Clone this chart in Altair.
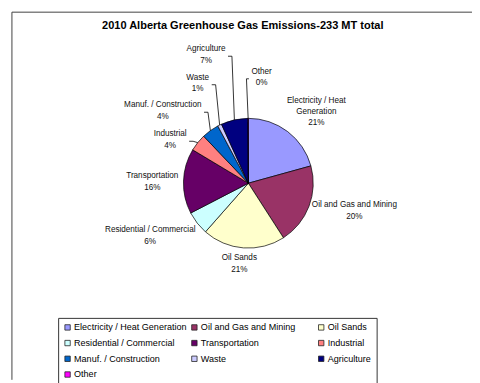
import math
import pandas as pd
import altair as alt

# ---------------- data ----------------
TITLE = "2010 Alberta Greenhouse Gas Emissions-233 MT total"
categories = [
    "Electricity / Heat Generation",
    "Oil and Gas and Mining",
    "Oil Sands",
    "Residential / Commercial",
    "Transportation",
    "Industrial",
    "Manuf. / Construction",
    "Waste",
    "Agriculture",
    "Other",
]
shares = [20.7, 20.2, 20.6, 5.9, 16.2, 4.3, 4.3, 1.0, 6.7, 0.1]  # percent of total
colors = ["#9999FF", "#993366", "#FFFFCC", "#CCFFFF", "#660066",
          "#FF8080", "#0066CC", "#CCCCFF", "#000080", "#FF00FF"]

# ---------------- layout / style ----------------
W_CHART, H_CHART = 472, 375
CX, CY, R = 244.5, 175.0, 66      # pie centre and radius (px)
GAP = 5                            # label distance outside the pie
FONT = "Liberation Sans"
LFS, LH = 8.3, 11.5                # pie label font size / line height
wrap = {"Electricity / Heat Generation": ["Electricity / Heat", "Generation"]}
nudge = {
    "Electricity / Heat Generation": (8, -2),
    "Oil and Gas and Mining": (1, -1),
    "Oil Sands": (-2.5, 0),
    "Residential / Commercial": (-7.5, 3),
    "Transportation": (0, 1.5),
    "Industrial": (-11, 7.6),
    "Manuf. / Construction": (-22.4, -6.6),
    "Waste": (-14.9, -27.5),
    "Agriculture": (-23.5, -49.9),
    "Other": (13.7, -25),
}
leader_cats = {"Industrial": 4, "Manuf. / Construction": 4, "Waste": 4,
               "Agriculture": 4, "Other": 2.5}

# approximate Arial/Helvetica glyph widths (per 1000 em) to size label boxes
GW = {" ": 278, "/": 278, ".": 278, "%": 889, "-": 333}
GW.update({c: 556 for c in "0123456789abdeghnopqu"})
GW.update({"c": 500, "f": 278, "i": 222, "j": 222, "k": 500, "l": 222, "m": 833,
           "r": 333, "s": 500, "t": 278, "v": 500, "w": 722, "x": 500, "y": 500,
           "z": 500, "A": 667, "C": 722, "E": 667, "G": 778, "H": 722, "I": 278,
           "M": 833, "O": 778, "R": 722, "S": 667, "T": 611, "W": 944})


def text_w(s, size):
    return sum(GW.get(ch, 600) for ch in s) * size / 1000.0


total = sum(shares)
pie_df = pd.DataFrame({"category": categories, "share": shares,
                       "idx": list(range(len(categories)))})

label_rows, seg_rows = [], []
cum = 0.0
for cat, v in zip(categories, shares):
    mid = (cum + v / 2) / total * 2 * math.pi
    cum += v
    sa, ca = math.sin(mid), math.cos(mid)
    ax, ay = CX + (R + GAP) * sa, CY - (R + GAP) * ca
    lines = wrap.get(cat, [cat]) + [f"{round(v / total * 100)}%"]
    w = max(text_w(l, LFS) for l in lines)
    h = len(lines) * LH
    dx, dy = nudge.get(cat, (0, 0))
    lx = ax + w / 2 * sa + dx
    ly = ay - h / 2 * ca + dy            # centre of the label block
    first = ly - (len(lines) - 1) * LH / 2  # centre of its first line
    label_rows.append({"text": "\n".join(lines), "lx": lx, "ly": first})
    if cat in leader_cats:
        ex, ey = CX + R * sa, CY - R * ca
        side = 1 if lx < ex else -1
        sx, sy = lx + side * (w / 2 + 2.5), ly + 1.3
        bx = sx + side * leader_cats[cat]
        seg_rows.append({"x": sx, "y": sy, "x2": bx, "y2": sy})
        seg_rows.append({"x": bx, "y": sy, "x2": ex, "y2": ey})

labels_df = pd.DataFrame(label_rows)
segs_df = pd.DataFrame(seg_rows)
title_df = pd.DataFrame({"t": [TITLE]})

# ---------------- marks ----------------
frame = alt.Chart(title_df).mark_rule(color="#404040", strokeWidth=1)
frame_top = frame.encode(x=alt.value(4), x2=alt.value(W_CHART), y=alt.value(1))
frame_left = frame.encode(x=alt.value(4), y=alt.value(1), y2=alt.value(H_CHART))

title = alt.Chart(title_df).mark_text(
    font=FONT, fontSize=11.2, fontWeight="bold", color="#000",
    align="center", baseline="middle"
).encode(text="t:N", x=alt.value(238.8), y=alt.value(15.3))

pie = alt.Chart(pie_df).mark_arc(radius=R, stroke="#000", strokeWidth=0.7).encode(
    theta=alt.Theta("share:Q", stack=True),
    order=alt.Order("idx:Q"),
    color=alt.Color(
        "category:N",
        scale=alt.Scale(domain=categories, range=colors),
        legend=alt.Legend(
            title=None, orient="none", legendX=51, legendY=312,
            direction="horizontal",
            columns=3, gridAlign="all", columnPadding=3, rowPadding=6,
            symbolType="square", symbolSize=30, symbolStrokeColor="#222",
            symbolStrokeWidth=0.8, symbolOpacity=1,
            labelFont=FONT, labelFontSize=9.2, labelColor="#000",
            labelOffset=2, labelLimit=0,
            padding=5, strokeColor="#333", fillColor="#FFFFFF",
        ),
    ),
    x=alt.value(CX),
    y=alt.value(CY),
)

leaders = alt.Chart(segs_df).mark_rule(color="#000", strokeWidth=0.8).encode(
    x=alt.X("x:Q", scale=None), y=alt.Y("y:Q", scale=None),
    x2="x2:Q", y2="y2:Q",
)

labels = alt.Chart(labels_df).mark_text(
    font=FONT, fontSize=LFS, lineHeight=LH, lineBreak="\n",
    align="center", baseline="middle", color="#111",
).encode(
    x=alt.X("lx:Q", scale=None), y=alt.Y("ly:Q", scale=None), text="text:N",
)

chart = alt.layer(frame_top, frame_left, title, pie, leaders, labels).properties(
    width=W_CHART, height=H_CHART, padding=0,
    autosize=alt.AutoSizeParams(type="none"),
    background="#FFFFFF",
).configure_view(stroke=None)

chart.save("out.html", embed_options={"renderer": "svg", "actions": False})
